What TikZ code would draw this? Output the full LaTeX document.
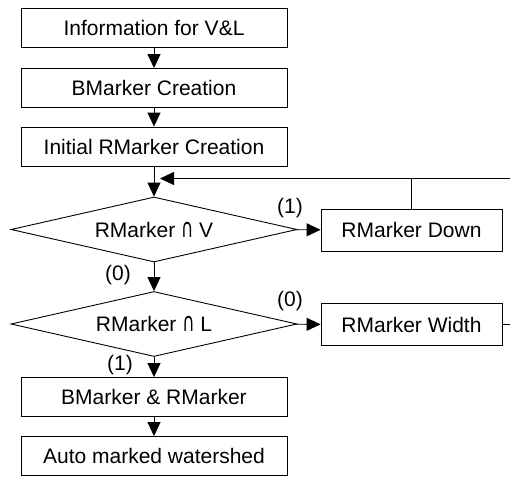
\documentclass[tikz,border=0pt]{standalone}
\usepackage{fontspec}
\setmainfont{Liberation Sans}
\newfontfamily\capfont{DejaVu Sans}
\usetikzlibrary{arrows.meta,shapes.geometric}
\tikzset{
    >={Triangle[width=13pt,length=14pt]},
    flow/.style={
        box/.append style={draw,rectangle,minimum width=266pt,minimum height=39pt,inner sep=0pt},
        side/.append style={draw,rectangle,minimum width=181pt,minimum height=42pt,inner sep=0pt},
        test/.append style={draw,diamond,aspect=4.4,minimum width=286pt,minimum height=65pt,inner sep=0pt},
        lbl/.append style={inner sep=0pt},
        every edge/.append style={draw}
    }
}
\newcommand{\meet}{{\capfont\scalebox{0.8}[1.25]{∩}}}

\begin{document}
\begin{tikzpicture}[flow,x=1pt,y=-1pt,line width=0.9pt,font=\fontsize{21}{25}\selectfont]
    \clip (0,0) rectangle (510,476);

    \node[box] (info) at (154,27.5) {Information for V\&L};
    \node[box] (bmk) at (154,88) {BMarker Creation} edge[<-] (info);
    \node[box] (irm) at (154,146.5) {Initial RMarker Creation} edge[<-] (bmk);

    \node[test] (tv) at (154,229.5) {RMarker \meet{} V} edge[<-] (irm);
    \node[side] (down) at (411.5,230) {RMarker Down} edge[<-] (tv);

    \node[test] (tl) at (154,324) {RMarker \meet{} L} edge[<-] (tv);
    \node[side] (wid) at (411.5,324.5) {RMarker Width} edge[<-] (tl);

    \node[box] (both) at (154,397) {BMarker \& RMarker} edge[<-] (tl);
    \node[box] (auto) at (154,456) {Auto marked watershed} edge[<-] (both);

    % branch labels
    \node[lbl] (tv1) at (290,208) {(1)};
    \node[lbl] (tv0) at (118,275) {(0)};
    \node[lbl] (tl0) at (290,301) {(0)};
    \node[lbl] (tl1) at (120,365) {(1)};

    % loop back above the first test
    \coordinate (merge) at (160,178.5);
    \draw (down.north) -- (down.north |- merge);
    \draw[->] (wid.east) -- ++(25,0) |- (merge);
\end{tikzpicture}
\end{document}
